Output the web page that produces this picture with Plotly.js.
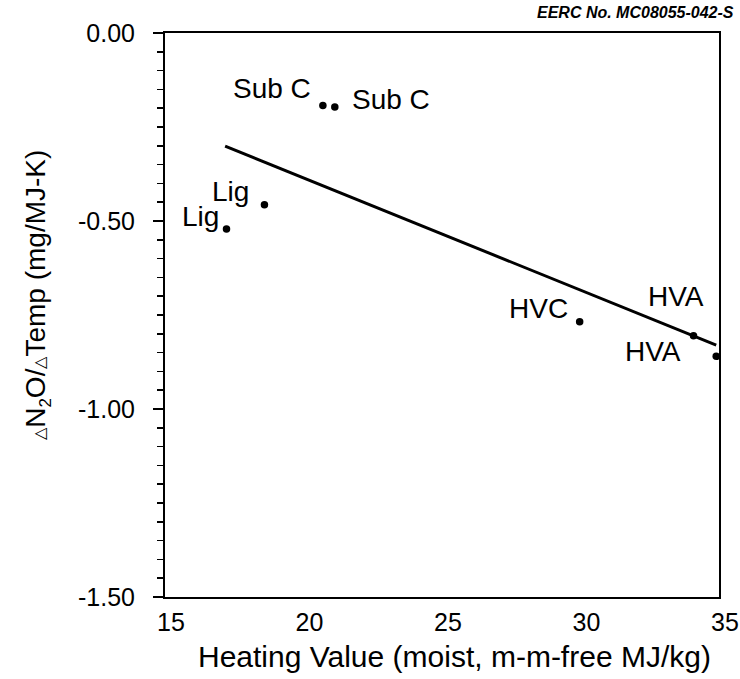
<!DOCTYPE html>
<html>
<head>
<meta charset="utf-8">
<script src="https://cdn.plot.ly/plotly-3.0.1.min.js"></script>
<style>html,body{margin:0;padding:0;background:#fff;}#chart{width:740px;height:679px;}</style>
</head>
<body>
<div id="chart"></div>
<script>
// Data
const coalLabels = ["Sub C", "Sub C", "Lig", "Lig", "HVC", "HVA", "HVA"];
const heatingValue = [20.70, 21.13, 17.22, 18.59, 29.97, 34.08, 34.90];
const dN2OdTemp = [-0.193, -0.197, -0.521, -0.457, -0.768, -0.805, -0.860];
const fitX = [17.17, 34.9];
const fitY = [-0.301, -0.830];
const xTickVals = [15, 20, 25, 30, 35];
const yTickVals = [0, -0.5, -1.0, -1.5];
const yTickText = ["0.00", "-0.50", "-1.00", "-1.50"];
const xTitle = "Heating Value (moist, m-m-free MJ/kg)";
const yTitle = "<span style=\"font-size:16px\">\u25B3</span>N<sub><span style=\"font-size:17px\">2</span></sub>O/<span style=\"font-size:16px\">\u25B3</span>Temp (mg/MJ-K)";
const noteText = "<b><i>EERC No. MC08055-042-S</i></b>";

// label placement (pixel offsets from each point)
const labelOffsets = [
  {xanchor: "right", xshift: -10, yshift: 17},
  {xanchor: "left", xshift: 15, yshift: 8},
  {xanchor: "right", xshift: -5, yshift: 12},
  {xanchor: "right", xshift: -13, yshift: 13},
  {xanchor: "right", xshift: -10, yshift: 13},
  {xanchor: "center", xshift: -18, yshift: 39},
  {xanchor: "right", xshift: -33, yshift: 5}
];

const FONT = "Liberation Sans, Arial, Helvetica, sans-serif";

const traces = [
  {
    x: fitX, y: fitY, mode: "lines", type: "scatter",
    line: {color: "#000", width: 3}, hoverinfo: "skip", showlegend: false
  },
  {
    x: heatingValue, y: dN2OdTemp, mode: "markers", type: "scatter",
    marker: {color: "#000", size: 7.5}, text: coalLabels, showlegend: false
  }
];

const annotations = coalLabels.map((t, i) => ({
  x: heatingValue[i], y: dN2OdTemp[i], xref: "x", yref: "y",
  text: t, showarrow: false,
  xanchor: labelOffsets[i].xanchor, yanchor: "middle",
  xshift: labelOffsets[i].xshift, yshift: labelOffsets[i].yshift,
  font: {family: FONT, size: 28, color: "#000"}
}));
annotations.push({
  xref: "paper", yref: "paper", x: 1.03, y: 1.0, xanchor: "right", yanchor: "bottom",
  yshift: 10, showarrow: false, text: noteText,
  font: {family: FONT, size: 16, color: "#000"}
});
// axis titles
annotations.push({
  xref: "paper", yref: "paper", x: 0.5217, y: -0.106, xanchor: "center", yanchor: "middle",
  showarrow: false, text: xTitle,
  font: {family: FONT, size: 30, color: "#000"}
});
annotations.push({
  xref: "paper", yref: "paper", x: -0.229, y: 0.536, xanchor: "center", yanchor: "middle",
  textangle: -90, showarrow: false, text: yTitle,
  font: {family: FONT, size: 28, color: "#000"}
});

const layout = {
  width: 740, height: 679,
  margin: {l: 165, r: 21, t: 33, b: 82},
  paper_bgcolor: "#fff", plot_bgcolor: "#fff",
  font: {family: FONT, color: "#000"},
  xaxis: {
    range: [15, 35], tickvals: xTickVals, ticks: "", showgrid: false, zeroline: false,
    showline: true, mirror: true, linecolor: "#000", linewidth: 2,
    ticklabelstandoff: 2, ticklabelshift: 6,
    tickfont: {family: FONT, size: 25, color: "#000"}
  },
  yaxis: {
    range: [-1.5, 0], tickvals: yTickVals, ticktext: yTickText, ticks: "outside", ticklen: 10,
    tickwidth: 1.5, tickcolor: "#000",
    minor: {dtick: 0.05, ticks: "outside", ticklen: 6, tickwidth: 1.5, tickcolor: "#000", showgrid: false},
    showgrid: false, zeroline: false,
    showline: true, mirror: true, linecolor: "#000", linewidth: 2,
    ticklabelstandoff: 13,
    tickfont: {family: FONT, size: 25, color: "#000"}
  },
  annotations: annotations,
  showlegend: false
};

Plotly.newPlot("chart", traces, layout, {displayModeBar: false, staticPlot: true});
</script>
</body>
</html>
